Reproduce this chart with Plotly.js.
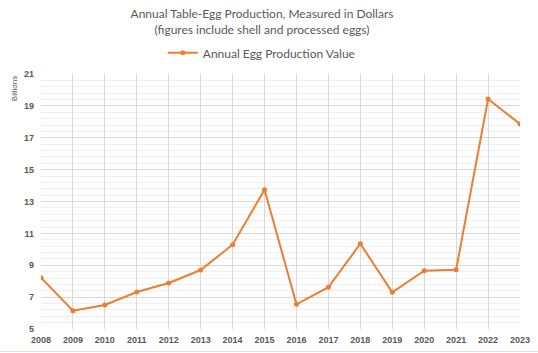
<!DOCTYPE html>
<html>
<head>
<meta charset="utf-8">
<script src="https://cdn.plot.ly/plotly-3.0.1.min.js"></script>
<style>html,body{margin:0;padding:0;background:#fff;}#chart{width:538px;height:353px;}</style>
</head>
<body>
<div id="chart"></div>
<script>
const years = [2008, 2009, 2010, 2011, 2012, 2013, 2014, 2015, 2016, 2017, 2018, 2019, 2020, 2021, 2022, 2023];
const values = [8.22, 6.15, 6.51, 7.32, 7.89, 8.70, 10.29, 13.74, 6.55, 7.62, 10.35, 7.30, 8.66, 8.72, 19.43, 17.86];
const seriesName = "Annual Egg Production Value";
const titleText = "Annual Table-Egg Production, Measured in Dollars<br>(figures include shell and processed eggs)";
const yUnitLabel = "Billions";

const orange = "#ED7D31";
const trace = {
  x: years, y: values, type: "scatter", mode: "lines+markers", name: seriesName,
  line: {color: orange, width: 2}, marker: {color: orange, size: 5}
};
const layout = {
  width: 538, height: 353,
  margin: {l: 41, r: 18, t: 74, b: 24},
  paper_bgcolor: "#fff", plot_bgcolor: "#fff",
  font: {family: "Lato, sans-serif", color: "#595959"},
  title: {text: titleText, x: 0.487, xanchor: "center", y: 0.949, yanchor: "middle",
          font: {size: 12, color: "#595959", family: "Lato, sans-serif"}},
  showlegend: true,
  legend: {orientation: "h", x: 0.461, xanchor: "center", y: 1.083, yanchor: "middle",
           font: {size: 12, color: "#595959", family: "Lato, sans-serif"}, itemwidth: 30},
  xaxis: {range: [2008, 2023], dtick: 1, tickformat: "d", showgrid: true, gridcolor: "#d9d9d9",
          zeroline: false, showline: false, ticks: "", ticklabelstandoff: 4,
          tickfont: {family: "Liberation Sans, Arial, sans-serif", size: 9, weight: "bold", color: "#595959"}},
  yaxis: {range: [5, 21], tick0: 5, dtick: 2, showgrid: true, gridcolor: "#d9d9d9", zeroline: false,
          ticks: "", showline: false, ticklabelstandoff: 6,
          minor: {tick0: 5, dtick: 0.4, showgrid: true, gridcolor: "#f0f0f0"},
          tickfont: {family: "Liberation Sans, Arial, sans-serif", size: 9, weight: "bold", color: "#595959"}},
  annotations: [{text: yUnitLabel, xref: "paper", yref: "paper", x: -0.055, y: 1, xanchor: "center", yanchor: "top",
                 textangle: -90, showarrow: false, font: {size: 8, color: "#595959", family: "Liberation Sans, Arial, sans-serif"}}],
  shapes: [{type: "line", xref: "paper", yref: "paper", x0: -0.0856, x1: 1.0376, y0: -0.088, y1: -0.088,
            line: {color: "#e0e0e0", width: 1}}]
};
Plotly.newPlot("chart", [trace], layout, {displayModeBar: false, staticPlot: true});
</script>
</body>
</html>
